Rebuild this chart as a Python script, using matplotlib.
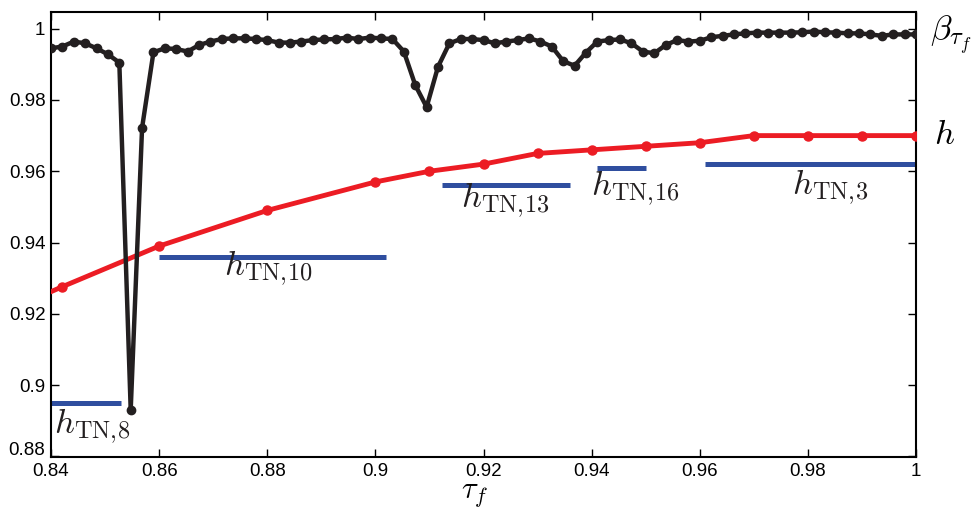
import numpy as np
import matplotlib
matplotlib.use("Agg")
import matplotlib.pyplot as plt
from matplotlib.transforms import ScaledTranslation

plt.rcParams["font.family"] = ["Liberation Sans", "DejaVu Sans"]
plt.rcParams["mathtext.fontset"] = "cm"

# beta_{tau_f} sampled on a uniform tau_f grid (77 points, 0.84 .. 1)
tau_beta = np.linspace(0.84, 1.0, 77)
beta = [0.9945, 0.9950, 0.9964, 0.9959, 0.9945, 0.9928, 0.9905, 0.8930, 0.9722, 0.9934,
        0.9945, 0.9943, 0.9936, 0.9954, 0.9964, 0.9971, 0.9973, 0.9973, 0.9971, 0.9968,
        0.9961, 0.9961, 0.9964, 0.9968, 0.9970, 0.9971, 0.9975, 0.9971, 0.9975, 0.9973,
        0.9971, 0.9936, 0.9842, 0.9780, 0.9893, 0.9959, 0.9971, 0.9971, 0.9968, 0.9959,
        0.9964, 0.9968, 0.9973, 0.9964, 0.9950, 0.9909, 0.9896, 0.9933, 0.9964, 0.9968,
        0.9970, 0.9959, 0.9936, 0.9931, 0.9954, 0.9968, 0.9964, 0.9966, 0.9976, 0.9980,
        0.9984, 0.9987, 0.9989, 0.9989, 0.9989, 0.9989, 0.9990, 0.9992, 0.9990, 0.9989,
        0.9987, 0.9987, 0.9984, 0.9980, 0.9984, 0.9984, 0.9984]

# h (first value is where the line enters at the left edge, no marker there)
tau_h = [0.84, 0.8421, 0.86, 0.88, 0.90, 0.91, 0.92, 0.93, 0.94, 0.95, 0.96, 0.97, 0.98, 0.99, 1.0]
h = [0.9262, 0.9276, 0.939, 0.949, 0.957, 0.960, 0.962, 0.965, 0.966, 0.967, 0.968, 0.970, 0.970, 0.970, 0.970]

# h_TN,k plateaus
tn_names = ["8", "10", "13", "16", "3"]
tn_start = [0.84, 0.86, 0.9123, 0.941, 0.961]
tn_end = [0.853, 0.902, 0.936, 0.950, 1.0]
tn_level = [0.895, 0.936, 0.956, 0.961, 0.962]

# label positions (data coords, text centre)
tn_lab_x = [0.8476, 0.8801, 0.9240, 0.9480, 0.9841]
tn_lab_y = [0.8885, 0.9328, 0.9519, 0.9552, 0.9555]

red = "#ec1c24"
blue = "#2f4e9f"
black = "#231f20"

fig = plt.figure(figsize=(9.72, 5.07), dpi=100)
ax = fig.add_axes([0.0525, 0.0986, 0.8899, 0.8771])

for x0, x1, lv in zip(tn_start, tn_end, tn_level):
    ax.plot([x0, x1], [lv, lv], color=blue, lw=3.6, solid_capstyle="butt")

ax.plot(tau_h, h, color=red, lw=3.5, marker="o", ms=6.5,
        markevery=list(range(1, len(tau_h))), zorder=3)
ax.plot(tau_beta, beta, color=black, lw=3.2, marker="o", ms=6, zorder=4)

for name, lx, ly in zip(tn_names, tn_lab_x, tn_lab_y):
    ax.text(lx, ly, r"$h_{\mathrm{TN},\!" + name + "}$", fontsize=25,
            ha="center", va="center", color=black)

ax.text(1.0025, 0.9982, r"$\beta_{\tau_f}$", fontsize=25, ha="left", va="center",
        clip_on=False)
ax.text(1.0033, 0.9702, r"$h$", fontsize=25, ha="left", va="center", clip_on=False)

ax.set_xlim(0.84, 1.0)
ax.set_ylim(0.8798, 1.0046)
ax.set_xticks([0.84, 0.86, 0.88, 0.9, 0.92, 0.94, 0.96, 0.98, 1.0])
ax.set_xticklabels(["0.84", "0.86", "0.88", "0.9", "0.92", "0.94", "0.96", "0.98", "1"])
ax.set_yticks([0.88, 0.9, 0.92, 0.94, 0.96, 0.98, 1.0])
ax.set_yticklabels(["0.88", "0.9", "0.92", "0.94", "0.96", "0.98", "1"])
ax.tick_params(direction="in", top=True, right=True, length=6, width=1.0,
               labelsize=13.5, pad=4)
for s in ax.spines.values():
    s.set_linewidth(1.5)

# bottom y label sits a little higher, as in the original
lab = ax.get_yticklabels()[0]
lab.set_transform(lab.get_transform() + ScaledTranslation(0, 8 / 100, fig.dpi_scale_trans))

ax.set_xlabel(r"$\tau_f$", fontsize=22)
ax.xaxis.set_label_coords(0.49, -0.049)

fig.savefig("out.png", dpi=100)
